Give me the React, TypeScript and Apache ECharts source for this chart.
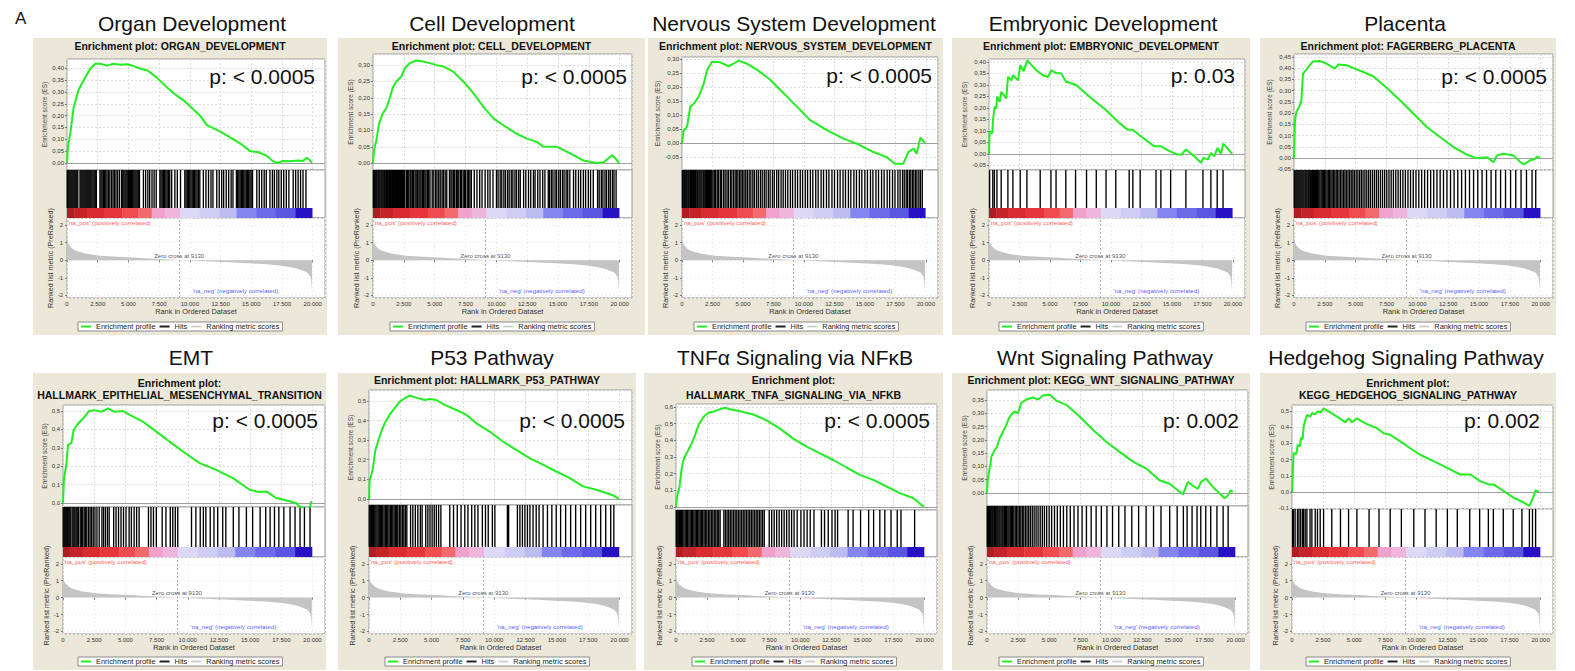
import React, { useEffect, useRef } from "react";
import * as echarts from "echarts";

const FONT = "'Liberation Sans', Arial, Helvetica, sans-serif";
const X_MAX = 21000;
const ZERO_CROSS = 9130;
const BEIGE = "#ebe8d9";
const GREEN = "#22ee22";

// ---------- shared ranked list (rank, metric) ----------
const rankedMetric = [
  [0, 1.3], [60, 1.0], [240, 0.8], [500, 0.62], [780, 0.53], [1120, 0.45], [1600, 0.36],
  [2680, 0.26], [4080, 0.19], [5400, 0.15], [6630, 0.1], [7560, 0.07], [8670, 0.03],
  [9130, 0], [10700, -0.05], [12240, -0.09], [13520, -0.13], [14800, -0.18], [16240, -0.23],
  [17340, -0.3], [18140, -0.38], [18770, -0.48], [19210, -0.6], [19580, -0.72], [19800, -0.92],
  [19880, -1.2], [19930, -1.8], [19950, -1.8]
];

// ---------- colour bar of the ranked list ----------
const cbStarts = [0, 600, 1600, 3000, 4500, 5800, 6900, 8000, 9200, 10800, 12400, 13800, 15400, 17000, 18600];
const cbEnds = [600, 1600, 3000, 4500, 5800, 6900, 8000, 9200, 10800, 12400, 13800, 15400, 17000, 18600, 19950];
const cbColors = ["#b01e24", "#c42429", "#d82c31", "#e6363b", "#ee4c50", "#f26a6e", "#f0a2cc", "#eeb6dc",
  "#dcd8f6", "#cfcdf4", "#bdbcf0", "#8585f0", "#6b6bea", "#5a56e2", "#2612c4"];

// ---------- titles ----------
const panelTitles = ["Organ Development", "Cell Development", "Nervous System Development", "Embryonic Development", "Placenta",
  "EMT", "P53 Pathway", "TNFα Signaling via NFκB", "Wnt Signaling Pathway", "Hedgehog Signaling Pathway"];
const plotTitles = [
  ["Enrichment plot: ORGAN_DEVELOPMENT"],
  ["Enrichment plot: CELL_DEVELOPMENT"],
  ["Enrichment plot: NERVOUS_SYSTEM_DEVELOPMENT"],
  ["Enrichment plot: EMBRYONIC_DEVELOPMENT"],
  ["Enrichment plot: FAGERBERG_PLACENTA"],
  ["Enrichment plot:", "HALLMARK_EPITHELIAL_MESENCHYMAL_TRANSITION"],
  ["Enrichment plot: HALLMARK_P53_PATHWAY"],
  ["Enrichment plot:", "HALLMARK_TNFA_SIGNALING_VIA_NFKB"],
  ["Enrichment plot: KEGG_WNT_SIGNALING_PATHWAY"],
  ["Enrichment plot:", "KEGG_HEDGEHOG_SIGNALING_PATHWAY"],
];
const pValues = ["p: < 0.0005", "p: < 0.0005", "p: < 0.0005", "p: 0.03", "p: < 0.0005",
  "p: < 0.0005", "p: < 0.0005", "p: < 0.0005", "p: 0.002", "p: 0.002"];

// ---------- running enrichment scores (rank, ES) ----------
const organES = [[0,0],[80,0.07],[270,0.125],[540,0.235],[950,0.31],[1355,0.35],[1900,0.40],[2300,0.42],[2710,0.42],[3250,0.412],[3790,0.42],[4340,0.416],[4880,0.418],[5420,0.41],[5960,0.40],[6600,0.39],[7320,0.36],[8130,0.32],[8800,0.29],[9490,0.265],[10200,0.23],[10840,0.20],[11380,0.16],[12200,0.14],[12900,0.12],[13550,0.10],[14300,0.075],[14900,0.05],[15600,0.045],[16260,0.03],[16700,0.01],[17070,0],[17600,0.008],[18160,0.007],[18800,0.01],[19200,0.008],[19510,0.022],[19750,0.012],[19950,0]];
const cellES = [[0,0],[80,0.04],[270,0.07],[490,0.12],[760,0.15],[1080,0.168],[1360,0.2],[1630,0.234],[1900,0.25],[2300,0.265],[2570,0.29],[2980,0.306],[3520,0.314],[4070,0.311],[4610,0.306],[5150,0.30],[5690,0.296],[6500,0.28],[7320,0.25],[8130,0.214],[8940,0.173],[9760,0.137],[10570,0.116],[11650,0.09],[12470,0.075],[13280,0.065],[13820,0.05],[14910,0.05],[15990,0.03],[17070,0.008],[18160,0],[18700,0.003],[19380,0.024],[19700,0.013],[19950,0]];
const nervousES = [[0,0],[140,0.045],[410,0.058],[680,0.13],[960,0.14],[1370,0.166],[1770,0.21],[2050,0.26],[2460,0.29],[3140,0.288],[3820,0.274],[4230,0.283],[4640,0.294],[5320,0.283],[6140,0.262],[7230,0.226],[8330,0.178],[9420,0.13],[10510,0.082],[11880,0.046],[13240,0.016],[14330,-0.002],[15700,-0.032],[16790,-0.05],[17470,-0.074],[18150,-0.074],[18560,-0.032],[19000,-0.02],[19250,-0.038],[19550,0.019],[19950,0]];
const embryonicES = [[0,0],[55,0.098],[270,0.09],[330,0.148],[460,0.205],[600,0.198],[655,0.25],[870,0.227],[1010,0.27],[1420,0.242],[1560,0.335],[1830,0.32],[1970,0.342],[2380,0.32],[2570,0.386],[2840,0.36],[3140,0.407],[3880,0.364],[4420,0.342],[4830,0.335],[5110,0.364],[5510,0.352],[5920,0.35],[6330,0.314],[7150,0.30],[8240,0.249],[9610,0.19],[10700,0.134],[11380,0.105],[11790,0.105],[12480,0.076],[13570,0.033],[14110,0.033],[14800,0.012],[15340,0],[15750,-0.004],[16160,0.019],[16840,-0.01],[17390,-0.039],[17580,-0.017],[17940,-0.024],[18210,0.004],[18480,-0.01],[18750,0.026],[19030,0.001],[19220,0.045],[19950,0]];
const placentaES = [[0,0],[80,0.168],[190,0.205],[410,0.227],[600,0.257],[730,0.376],[950,0.39],[1270,0.413],[1540,0.43],[2090,0.432],[2630,0.42],[3310,0.398],[3580,0.416],[4250,0.413],[4930,0.398],[5610,0.383],[6420,0.364],[7510,0.313],[8590,0.257],[9670,0.198],[10760,0.138],[11840,0.094],[12930,0.049],[14010,0.015],[14820,0],[15640,0.004],[16180,-0.018],[16450,0.012],[16990,0.019],[17800,0.012],[18350,-0.018],[18620,-0.028],[19160,-0.01],[19500,-0.005],[19750,0.007],[19950,0]];
const emtES = [[0,0],[80,0.135],[270,0.208],[400,0.316],[670,0.325],[850,0.397],[1120,0.424],[1470,0.45],[1740,0.47],[2080,0.5],[2540,0.505],[3070,0.496],[3600,0.514],[4140,0.496],[4810,0.5],[5610,0.47],[6410,0.442],[7480,0.388],[8540,0.334],[9610,0.28],[10950,0.217],[12280,0.18],[13620,0.135],[14950,0.072],[15700,0.06],[16290,0.063],[17090,0.027],[18160,0.009],[18690,0],[18960,-0.02],[19350,-0.03],[19600,-0.035],[19800,-0.02],[19900,0.01]];
const p53ES = [[0,0],[50,0.09],[190,0.124],[320,0.158],[510,0.25],[720,0.293],[980,0.344],[1250,0.386],[1650,0.43],[2050,0.463],[2450,0.497],[2850,0.514],[3250,0.527],[3780,0.517],[4440,0.505],[4840,0.51],[5370,0.505],[6040,0.48],[6970,0.454],[7770,0.43],[8570,0.386],[9630,0.344],[10690,0.293],[11760,0.25],[12820,0.208],[13890,0.175],[14950,0.14],[16010,0.107],[17080,0.064],[18140,0.047],[18940,0.03],[19470,0.019],[19950,0]];
const tnfaES = [[0,0],[110,0.074],[270,0.113],[460,0.233],[640,0.292],[990,0.342],[1260,0.382],[1530,0.431],[1800,0.49],[2200,0.54],[2600,0.565],[3140,0.575],[3540,0.587],[3940,0.595],[4340,0.587],[5150,0.575],[6220,0.555],[7290,0.52],[8360,0.47],[9430,0.41],[10510,0.362],[11580,0.322],[12650,0.282],[13720,0.237],[14790,0.193],[15870,0.163],[16940,0.123],[18010,0.083],[19080,0.054],[19950,0]];
const wntES = [[0,0],[50,0.042],[160,0.08],[270,0.105],[350,0.137],[620,0.162],[800,0.174],[1020,0.206],[1290,0.231],[1500,0.25],[1770,0.282],[1960,0.295],[2220,0.307],[2490,0.301],[2760,0.34],[3160,0.352],[3700,0.36],[4100,0.352],[4500,0.367],[5040,0.37],[5570,0.348],[6380,0.332],[7450,0.288],[8520,0.238],[9590,0.193],[10670,0.155],[11740,0.118],[12810,0.092],[13880,0.048],[14690,0.035],[15760,-0.006],[16160,0.042],[16560,0.027],[16960,0.016],[17230,0.042],[17630,0.054],[18170,0.023],[19110,-0.02],[19380,-0.009],[19590,0.01],[19780,0.004]];
const hedgehogES = [[0,0],[50,0.088],[130,0.24],[350,0.235],[460,0.292],[620,0.28],[720,0.333],[860,0.33],[940,0.404],[1070,0.445],[1210,0.476],[1470,0.465],[1610,0.486],[1880,0.48],[2060,0.5],[2280,0.49],[2550,0.516],[3620,0.465],[4290,0.43],[4560,0.455],[4820,0.43],[5230,0.455],[5760,0.43],[6160,0.414],[6830,0.394],[7370,0.363],[7910,0.353],[8710,0.312],[9510,0.27],[10320,0.23],[11120,0.2],[11930,0.17],[12730,0.139],[13530,0.108],[14340,0.108],[15140,0.067],[15810,0.047],[16210,0.047],[17020,0.006],[17820,-0.035],[18630,-0.065],[19100,-0.086],[19350,-0.045],[19600,0.01],[19850,0.002]];

// ---------- hit positions (rank) ----------
const organHits = [20,90,160,240,320,400,480,560,640,720,800,880,1060,1140,1220,1300,1380,1460,1540,1620,1700,1780,1860,1940,2030,2120,2210,2300,2390,2680,2770,2860,2960,3060,3160,3260,3380,3490,3630,3750,3870,3990,4130,4280,4450,4540,4630,4720,4810,4900,4990,5080,5170,5260,5350,5440,5530,5620,5710,5800,5900,6220,6400,6580,6730,6920,7090,7260,7560,7650,7750,7850,7950,8050,8150,8250,8360,8520,8780,8980,9240,9590,9690,9790,9890,9990,10090,10190,10290,10390,10490,10590,10700,10810,11100,11310,11520,11720,11880,12190,12390,12590,12750,12960,13160,13360,13510,13790,13890,13990,14090,14190,14290,14390,14490,14590,14690,14790,14890,14990,15100,15450,15650,15850,16050,16220,16520,16720,16880,17080,17240,17440,17640,17850,18060,18410,18610,18810,19010,19210,19450];
const cellHits = [30,110,180,260,330,420,490,560,650,720,800,880,950,1040,1110,1190,1280,1350,1430,1520,1590,1670,1760,1830,1910,2000,2080,2150,2240,2320,2400,2490,2570,2700,2810,2900,3010,3090,3200,3290,3410,3500,3600,3720,3810,3900,4020,4110,4210,4300,4420,4510,4620,4800,4930,5080,5190,5330,5450,5600,5710,5850,5980,6200,6320,6410,6540,6630,6760,6870,6960,7090,7180,7310,7420,7500,7640,7750,7860,7970,8210,8430,8650,8840,9090,9310,9490,9730,10010,10140,10310,10440,10610,10740,10910,11040,11210,11340,11510,11640,11810,11940,12210,12390,12610,12790,13010,13140,13360,13540,13760,13940,14210,14310,14460,14590,14760,14890,15060,15190,15360,15490,15660,15790,15960,16260,16440,16660,16840,17060,17240,17460,17640,17860,18210,18340,18510,18640,18810,18940,19110,19240,19410,19540,19710];
const nervousHits = [30,100,190,260,350,420,510,590,690,770,870,940,1040,1120,1220,1290,1390,1470,1560,1640,1740,1820,1910,2000,2090,2160,2270,2350,2440,2540,2650,2760,2890,3000,3140,3250,3410,3540,3690,3810,3970,4090,4230,4360,4490,4590,4730,4840,4970,5090,5230,5360,5510,5650,5810,5940,6110,6260,6430,6580,6750,6900,7080,7230,7420,7570,7770,7930,8130,8300,8490,8680,8890,9070,9290,9480,9700,9890,10110,10300,10530,10730,10970,11170,11410,11610,11850,12050,12300,12510,12760,12970,13210,13410,13650,13850,14100,14310,14550,14750,15000,15210,15460,15660,15910,16120,16370,16580,16830,17030,17270,17470,17710,17890,18090,18230,18390,18510,18660,18770,18910,19020,19160,19270,19430,19560,19710];
const embryonicHits = [50,310,440,650,1000,1550,1960,2560,3110,4200,5080,5500,6300,7100,8000,8800,9600,10400,11500,11800,12400,13700,14100,14900,16150,17550,18200,18720,19200];
const placentaHits = [20,90,170,250,330,410,490,570,650,730,810,900,980,1060,1150,1230,1320,1400,1490,1570,1660,1750,1830,1920,2010,2100,2200,2290,2390,2480,2580,2680,2780,2880,2990,3090,3200,3310,3420,3530,3650,3770,3890,4010,4130,4250,4380,4510,4640,4770,4900,5040,5180,5320,5460,5600,5750,5900,6050,6200,6360,6520,6680,6840,7010,7180,7350,7520,7700,7880,8060,8250,8440,8630,8830,9030,9240,9450,9670,9890,10120,10350,10590,10830,11080,11330,11590,11850,12120,12400,12690,12980,13280,13590,13900,14230,14560,14900,15250,15610,15980,16360,16750,17150,17560,17980,18410,18850,19300,19600];
const emtHits = [20,100,180,260,340,420,500,580,720,800,880,960,1050,1140,1240,1380,1480,1580,1700,1820,1910,2050,2170,2290,2420,2560,2720,2900,3120,3250,3400,3560,3700,4060,4250,4450,4650,4850,5050,5300,5480,5700,5900,6100,6850,7050,7250,7480,7950,8250,8600,8800,9000,9200,10300,10650,11000,11250,11450,11800,12100,12400,12800,13050,13650,14100,14700,15200,15800,16250,16600,16950,17300,17700,18200,18600,19000,19350,19800];
const p53Hits = [20,100,190,280,370,460,550,640,730,820,920,1010,1100,1200,1300,1400,1500,1600,1700,1800,1900,2000,2100,2200,2300,2420,2540,2660,2780,2900,3020,3320,3500,3700,3900,4100,4240,4530,4700,4870,5040,5210,5380,5560,5740,6450,6750,7050,7350,7650,7900,8200,8450,8700,9050,9300,9520,9850,10050,11050,11150,11850,12050,12250,12450,12650,12850,13100,13350,13580,13900,14250,14600,14950,15300,15700,16100,16500,16900,17300,17700,18100,18500,18900,19300,19550];
const tnfaHits = [20,100,180,270,360,450,540,640,740,840,940,1040,1140,1240,1340,1440,1540,1640,1740,1840,1940,2040,2150,2260,2370,2480,2600,2720,2840,2960,3080,3200,3320,3440,3550,3850,3980,4110,4240,4370,4500,4630,4760,4890,5020,5150,5280,5410,5540,5670,5800,5930,6060,6190,6320,6450,6580,6710,6840,6970,7100,7500,7700,7900,8100,8300,8500,8700,8900,9100,9300,9500,9750,10050,10300,10550,10800,11100,11700,11950,12250,12550,12800,13000,13850,14250,14850,15500,15900,16400,16800,17300,17800,18100,19200];
const wntHits = [20,60,130,190,260,330,400,470,550,620,700,790,870,960,1040,1130,1220,1300,1400,1490,1580,1680,1770,1870,1960,2060,2160,2270,2380,2490,2600,2720,2840,2960,3090,3220,3350,3490,3640,3790,3950,4110,4280,4450,4620,4800,5000,5200,5430,5660,5900,6150,6420,6700,7000,7320,7650,8000,8380,8780,9200,9650,10100,10600,11100,11650,12200,12800,13400,14000,14700,15300,15800,16100,16500,16900,17200,17600,18000,18500,19000,19400];
const hedgehogHits = [50,120,250,440,560,700,850,930,1060,1200,1450,1600,1870,2050,2270,2540,3200,3900,4550,5220,6200,7000,7900,8800,9800,10700,11600,12500,13300,14300,15100,15800,16200,17000,17800,18500,19100,19350,19600];

const esSeries = [organES, cellES, nervousES, embryonicES, placentaES, emtES, p53ES, tnfaES, wntES, hedgehogES];
const hitSeries = [organHits, cellHits, nervousHits, embryonicHits, placentaHits, emtHits, p53Hits, tnfaHits, wntHits, hedgehogHits];

// ---------- layout (pixels) and axis settings ----------
const TOP = { y0: 38, y1: 335, titleY: 23, hitsBot: 208, cbBot: 218, rankBot: 298 };
const BOT = { y0: 373, y1: 670, titleY: 357, hitsBot: 547, cbBot: 557, rankBot: 634 };
const LAYOUT = [
  { ...TOP, x0: 33, x1: 327, pl: 67, pr: 325, titleX: 192, sub: [46], esTop: 59, esBot: 170, pRight: 315, pY: 76, yMin: -0.03, yMax: 0.44, step: 0.05 },
  { ...TOP, x0: 338, x1: 645, pl: 373, pr: 632, titleX: 492, sub: [46], esTop: 54, esBot: 170, pRight: 627, pY: 76, yMin: -0.021, yMax: 0.334, step: 0.05 },
  { ...TOP, x0: 648, x1: 943, pl: 682, pr: 938, titleX: 794, sub: [46], esTop: 57, esBot: 170, pRight: 932, pY: 75, yMin: -0.096, yMax: 0.307, step: 0.05 },
  { ...TOP, x0: 952, x1: 1250, pl: 989, pr: 1245, titleX: 1103, sub: [46], esTop: 59, esBot: 170, pRight: 1235, pY: 75, yMin: -0.07, yMax: 0.413, step: 0.05 },
  { ...TOP, x0: 1260, x1: 1556, pl: 1294, pr: 1553, titleX: 1405, sub: [46], esTop: 54, esBot: 170, pRight: 1547, pY: 76, yMin: -0.053, yMax: 0.463, step: 0.05 },
  { ...BOT, x0: 33, x1: 326, pl: 63, pr: 325, titleX: 191, sub: [383, 395], esTop: 405, esBot: 507, pRight: 318, pY: 420, yMin: -0.022, yMax: 0.533, step: 0.1 },
  { ...BOT, x0: 338, x1: 636, pl: 369, pr: 632, titleX: 492, sub: [380], esTop: 390, esBot: 505, pRight: 625, pY: 420, yMin: -0.031, yMax: 0.556, step: 0.1 },
  { ...BOT, x0: 644, x1: 943, pl: 676, pr: 937, titleX: 795, sub: [380, 395], esTop: 404, esBot: 510, pRight: 930, pY: 420, yMin: -0.018, yMax: 0.618, step: 0.1 },
  { ...BOT, x0: 952, x1: 1250, pl: 987, pr: 1248, titleX: 1105, sub: [380], esTop: 390, esBot: 506, pRight: 1239, pY: 420, yMin: -0.049, yMax: 0.388, step: 0.05 },
  { ...BOT, x0: 1260, x1: 1556, pl: 1292, pr: 1553, titleX: 1406, sub: [383, 395], esTop: 405, esBot: 509, pRight: 1540, pY: 420, yMin: -0.105, yMax: 0.537, step: 0.1 },
];

const fmtRank = (v: number) => {
  if (v === 0) return "0";
  const th = Math.floor(v / 1000);
  const r = Math.round(v % 1000);
  return `${th}.${String(r).padStart(3, "0")}`;
};
const fmtES = (step: number) => (v: number) => {
  const k = v / step;
  if (Math.abs(k - Math.round(k)) > 1e-6) return "";
  const val = Math.round(k) * step;
  const d = step < 0.099 ? 2 : 1;
  const s = (Math.abs(val) < 1e-9 ? 0 : val).toFixed(d);
  return s.replace(".", ",");
};

const axisText = { fontSize: 6, color: "#333", fontFamily: FONT };

function buildOption() {
  const grid: any[] = [], xAxis: any[] = [], yAxis: any[] = [], series: any[] = [], legend: any[] = [], elements: any[] = [];
  elements.push({ type: "text", x: 15, y: 18, z: 100, style: { text: "A", fontSize: 17, fontFamily: FONT, fill: "#111", verticalAlign: "middle" } });

  LAYOUT.forEach((L, i) => {
    const cx = (L.x0 + L.x1) / 2;
    const w = L.pr - L.pl;
    elements.push({ type: "rect", z: -10, silent: true, shape: { x: L.x0, y: L.y0, width: L.x1 - L.x0, height: L.y1 - L.y0 }, style: { fill: BEIGE } });
    elements.push({ type: "text", x: L.titleX, y: L.titleY, z: 100, style: { text: panelTitles[i], fontSize: 21, fontFamily: FONT, fill: "#111", align: "center", verticalAlign: "middle" } });
    plotTitles[i].forEach((s, k) => elements.push({ type: "text", x: cx, y: L.sub[k], z: 100, style: { text: s, fontSize: 10.5, fontWeight: "bold", fontFamily: FONT, fill: "#111", align: "center", verticalAlign: "middle" } }));
    elements.push({ type: "text", x: L.pRight, y: L.pY, z: 100, style: { text: pValues[i], fontSize: 21, fontFamily: FONT, fill: "#111", align: "right", verticalAlign: "middle" } });

    const g = i * 3;
    // ES grid
    grid.push({ left: L.pl, top: L.esTop, width: w, height: L.esBot - L.esTop, show: true, backgroundColor: "#fff", borderColor: "#9a9a9a", borderWidth: 1 });
    xAxis.push({ gridIndex: g, type: "value", min: 0, max: X_MAX, interval: 2500, axisLabel: { show: false }, axisTick: { show: false }, axisLine: { show: false },
      splitLine: { show: true, lineStyle: { color: "#dcdcdc", type: [2, 2], width: 1 } } });
    yAxis.push({ gridIndex: g, type: "value", min: L.yMin, max: L.yMax, minInterval: L.step, maxInterval: L.step, splitNumber: 12,
      axisLabel: { ...axisText, margin: 3, formatter: fmtES(L.step), showMinLabel: false, showMaxLabel: false },
      axisTick: { show: true, length: 2, lineStyle: { color: "#777" } }, axisLine: { show: false },
      splitLine: { show: true, lineStyle: { color: "#dcdcdc", type: [2, 2], width: 1 } },
      name: "Enrichment score (ES)", nameLocation: "middle", nameGap: 14, nameTextStyle: { fontSize: 6.5, color: "#444", fontFamily: FONT } });
    // hits + colour bar grid
    const hitsH = L.cbBot - L.esBot;
    const cbFrac = (L.cbBot - L.hitsBot) / hitsH;
    grid.push({ left: L.pl, top: L.esBot, width: w, height: hitsH, show: true, backgroundColor: "#fff", borderColor: "#9a9a9a", borderWidth: 1 });
    xAxis.push({ gridIndex: g + 1, type: "value", min: 0, max: X_MAX, show: false, splitLine: { show: false } });
    yAxis.push({ gridIndex: g + 1, type: "value", min: 0, max: 1, show: false, splitLine: { show: false } });
    // ranked list grid
    grid.push({ left: L.pl, top: L.cbBot, width: w, height: L.rankBot - L.cbBot, show: true, backgroundColor: "#fff", borderColor: "#9a9a9a", borderWidth: 1 });
    xAxis.push({ gridIndex: g + 2, type: "value", min: 0, max: X_MAX, interval: 2500,
      axisLabel: { ...axisText, margin: 3, formatter: fmtRank, showMaxLabel: false },
      axisTick: { show: true, length: 2, lineStyle: { color: "#777" } }, axisLine: { show: false },
      splitLine: { show: true, lineStyle: { color: "#efefef", type: [2, 2], width: 1 } },
      name: "Rank in Ordered Dataset", nameLocation: "middle", nameGap: 10, nameTextStyle: { fontSize: 7.4, color: "#333", fontFamily: FONT, verticalAlign: "top" } });
    yAxis.push({ gridIndex: g + 2, type: "value", min: -2.15, max: 2.4, minInterval: 1, maxInterval: 1, splitNumber: 5,
      axisLabel: { ...axisText, margin: 4, showMinLabel: false, showMaxLabel: false, formatter: (v: number) => (Math.abs(v - Math.round(v)) < 1e-6 ? String(Math.round(v)) : "") },
      axisTick: { show: true, length: 2, lineStyle: { color: "#777" } }, axisLine: { show: false },
      splitLine: { show: true, lineStyle: { color: "#efefef", type: [2, 2], width: 1 } },
      name: "Ranked list metric (PreRanked)", nameLocation: "middle", nameGap: 12, nameTextStyle: { fontSize: 7.2, color: "#333", fontFamily: FONT } });

    series.push({
      name: "Enrichment profile", type: "line", xAxisIndex: g, yAxisIndex: g, data: esSeries[i], symbol: "none", showSymbol: false,
      lineStyle: { color: GREEN, width: 2 }, itemStyle: { color: GREEN }, z: 5,
      markLine: { silent: true, symbol: "none", label: { show: false }, lineStyle: { color: "#a0a0a0", type: "solid", width: 1.2 }, data: [{ yAxis: 0 }], z: 3 },
    });
    series.push({
      name: "Hits", type: "custom", xAxisIndex: g + 1, yAxisIndex: g + 1, coordinateSystem: "cartesian2d",
      data: hitSeries[i].map((h) => [h, 1]), encode: { x: 0, y: 1 }, itemStyle: { color: "#000" }, clip: false,
      renderItem: (params: any, api: any) => {
        const a = api.coord([api.value(0), cbFrac]);
        const b = api.coord([api.value(0), 1]);
        return { type: "line", shape: { x1: a[0], y1: a[1], x2: b[0], y2: b[1] }, style: { stroke: "#000", lineWidth: 1.35 } };
      },
    });
    series.push({
      name: "colour bar", type: "custom", xAxisIndex: g + 1, yAxisIndex: g + 1, coordinateSystem: "cartesian2d",
      data: cbStarts.map((s, k) => [s, cbEnds[k], k]), encode: { x: [0, 1] }, clip: false,
      renderItem: (params: any, api: any) => {
        const p0 = api.coord([api.value(0), cbFrac]);
        const p1 = api.coord([api.value(1), 0]);
        return { type: "rect", shape: { x: p0[0], y: p0[1], width: p1[0] - p0[0] + 0.4, height: p1[1] - p0[1] }, style: { fill: cbColors[api.value(2)] } };
      },
    });
    series.push({
      name: "Ranking metric scores", type: "line", xAxisIndex: g + 2, yAxisIndex: g + 2, data: rankedMetric, symbol: "none", showSymbol: false,
      lineStyle: { width: 0 }, areaStyle: { color: "#c4c4c4", opacity: 1 }, itemStyle: { color: "#c8c8c8" },
      markLine: { silent: true, symbol: "none", label: { show: false }, lineStyle: { color: "#b0b0b0", type: [2, 2], width: 1 }, data: [{ xAxis: ZERO_CROSS }] },
    });
    series.push({
      name: "annotations", type: "scatter", xAxisIndex: g + 2, yAxisIndex: g + 2, symbolSize: 0, silent: true, z: 6,
      data: [
        { value: [ZERO_CROSS, 0.02], label: { show: true, position: "top", distance: 1, formatter: `Zero cross at ${ZERO_CROSS}`, fontSize: 6, color: "#222", fontFamily: FONT } },
        { value: [60, 2.12], label: { show: true, position: "right", distance: 0, formatter: "'na_pos' (positively correlated)", fontSize: 6.2, color: "#ff2a2a", fontFamily: FONT } },
        { value: [10200, -1.72], label: { show: true, position: "right", distance: 0, formatter: "'na_neg' (negatively correlated)", fontSize: 6.2, color: "#2a2aff", fontFamily: FONT } },
      ],
    });

    legend.push({
      left: Math.round(cx - 102), top: L.y1 - 13, orient: "horizontal", itemWidth: 10, itemHeight: 2, itemGap: 4, padding: [1, 3],
      borderColor: "#8a8a8a", borderWidth: 1, backgroundColor: "#fff", selectedMode: false,
      textStyle: { fontSize: 7.4, color: "#222", fontFamily: FONT },
      data: [
        { name: "Enrichment profile", icon: "rect", itemStyle: { color: GREEN } },
        { name: "Hits", icon: "rect", itemStyle: { color: "#222" } },
        { name: "Ranking metric scores", icon: "rect", itemStyle: { color: "#cfcfcf" } },
      ],
    });
  });

  return {
    animation: false,
    backgroundColor: "#fff",
    textStyle: { fontFamily: FONT },
    grid, xAxis, yAxis, series, legend,
    graphic: { elements },
  };
}

export default function App() {
  const ref = useRef<HTMLDivElement>(null);
  useEffect(() => {
    const chart = echarts.init(ref.current!, null, { renderer: "svg" });
    chart.setOption(buildOption() as any);
    return () => chart.dispose();
  }, []);
  return <div ref={ref} style={{ position: "absolute", left: 0, top: 0, width: 1575, height: 671, background: "#fff" }} />;
}
